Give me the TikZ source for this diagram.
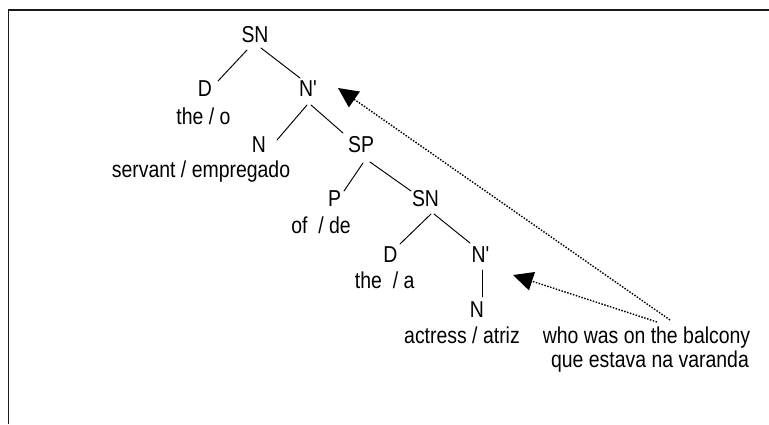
\documentclass[tikz,border=0pt]{standalone}
\usepackage{fontspec}
\setmainfont{Liberation Sans}[FakeStretch=0.845,Ligatures=TeXOff]
\usetikzlibrary{arrows.meta}
\begin{document}
\begin{tikzpicture}[x=1pt,y=-1pt,
  lbl/.style={anchor=base,inner sep=0pt,font=\fontsize{23}{27}\selectfont},
  branch/.style={line width=0.95pt,line cap=round},
  frameline/.style={line width=1.4pt,draw=black!90},
  movement/.style={line width=1.4pt,dash pattern=on 1.5pt off 1.5pt,
    -{Triangle[length=20pt,width=19pt]}}]
\useasboundingbox (0,0) rectangle (769,424);
% frame (only the top and left edges fall inside the page)
\draw[frameline] (8.5,424) -- (8.5,10) -- (769,10);

% tree labels
\node[lbl] (SNa) at (255,42) {SN};
\node[lbl] (Da)  at (205,96.5) {D};
\node[lbl] (Wa)  at (203.5,124) {the / o};
\node[lbl] (Nba) at (308,96.5) {N'};
\node[lbl] (Na)  at (259,152) {N};
\node[lbl] (Wb)  at (201,177) {servant / empregado};
\node[lbl] (SP)  at (361,152) {SP};
\node[lbl] (P)   at (334.5,206) {P};
\node[lbl] (Wc)  at (321,233) {of\ \ / de};
\node[lbl] (SNb) at (425.5,206) {SN};
\node[lbl] (Db)  at (390.5,262) {D};
\node[lbl] (Wd)  at (384.7,288) {the\ \ / a};
\node[lbl] (Nbb) at (480.5,262) {N'};
\node[lbl] (Nb)  at (477,317) {N};
\node[lbl] (We)  at (462,343) {actress / atriz};
\node[lbl] (Rel) at (646.5,343) {who was on the balcony};
\node[lbl] (RelP) at (650,367) {que estava na varanda};

% branches
\draw[branch] ([shift={(-8,8)}]SNa.base) -- ([shift={(13,-15.5)}]Da.base);
\draw[branch] ([shift={(6,6)}]SNa.base) -- ([shift={(-8,-18.5)}]Nba.base);
\draw[branch] ([shift={(-1,8.5)}]Nba.base) -- ([shift={(18,-12)}]Na.base);
\draw[branch] ([shift={(3,8.5)}]Nba.base) -- ([shift={(-18,-19)}]SP.base);
\draw[branch] ([shift={(2,11)}]SP.base) -- ([shift={(9.5,-15)}]P.base);
\draw[branch] ([shift={(9,10)}]SP.base) -- ([shift={(-14.5,-15)}]SNb.base);
\draw[branch] ([shift={(5.5,8)}]SNb.base) -- ([shift={(9.5,-18)}]Db.base);
\draw[branch] ([shift={(8.5,8)}]SNb.base) -- ([shift={(-10.5,-19)}]Nbb.base);
\draw[branch] ([shift={(1.5,8)}]Nbb.base) -- ([shift={(5,-20)}]Nb.base);

% movement arrows from the relative clause
\coordinate (src1) at ([shift={(23.5,-23)}]Rel.base);
\coordinate (src2) at ([shift={(10.5,-21)}]Rel.base);
\coordinate (tgt1) at ([shift={(30,-8.5)}]Nba.base);
\coordinate (tgt2) at ([shift={(32.5,13)}]Nbb.base);
\draw[movement] (src1) -- (tgt1);
\draw[movement] (src2) -- (tgt2);
\end{tikzpicture}
\end{document}
